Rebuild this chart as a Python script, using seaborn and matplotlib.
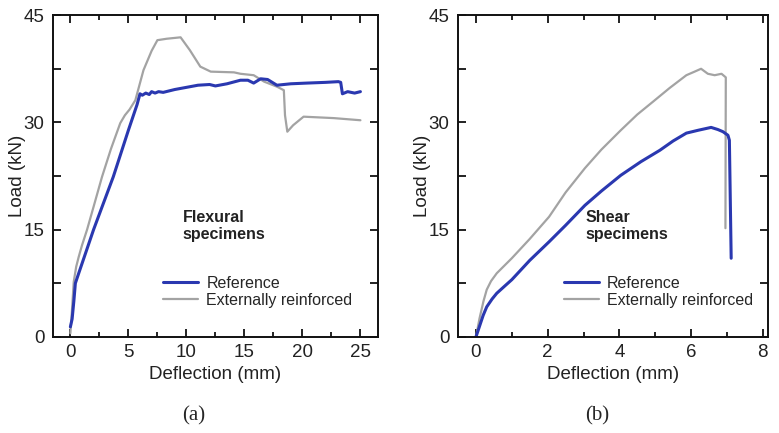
import numpy as np
import pandas as pd
import matplotlib
matplotlib.use("Agg")
import matplotlib.pyplot as plt
import seaborn as sns
from matplotlib.ticker import MultipleLocator, FuncFormatter

sns.set_style("ticks")
plt.rcParams['font.family'] = ['Liberation Sans', 'DejaVu Sans']

# ---- Data: flexural specimens (panel a) ----
flex_ref_x = [0.0, 0.15, 0.3, 0.43, 0.72, 2.0, 3.7, 5.0, 5.75, 6.0, 6.2, 6.5, 6.8, 7.0, 7.3, 7.6, 8.0,
              9.0, 10.0, 11.0, 12.0, 12.5, 13.5, 14.66, 15.3, 15.8, 16.4, 17.0, 17.8, 19.0, 20.4,
              22.0, 23.1, 23.3, 23.45, 23.9, 24.5, 25.0]
flex_ref_y = [1.4, 2.5, 5.0, 7.5, 8.9, 15.0, 22.4, 28.9, 32.5, 34.0, 33.8, 34.1, 33.9, 34.3, 34.1, 34.3, 34.2,
              34.6, 34.9, 35.2, 35.3, 35.1, 35.4, 35.9, 35.9, 35.5, 36.1, 36.0, 35.2, 35.4, 35.5,
              35.6, 35.7, 35.6, 34.0, 34.3, 34.1, 34.3]

flex_ext_x = [0.0, 0.15, 0.29, 0.5, 0.72, 1.0, 1.44, 2.0, 2.73, 3.5, 4.3, 4.7, 5.1, 5.6, 6.3, 7.0, 7.5,
              8.3, 9.5, 10.3, 11.2, 12.1, 14.1, 14.66, 15.8, 16.7, 17.8, 18.4, 18.5, 18.7, 19.2, 20.1,
              22.7, 25.0]
flex_ext_y = [0.5, 4.0, 7.7, 9.8, 11.2, 12.8, 15.0, 18.2, 22.4, 26.3, 29.9, 31.0, 31.8, 33.1, 37.3, 40.0, 41.5,
              41.7, 41.9, 40.1, 37.8, 37.1, 37.0, 36.8, 36.6, 35.7, 35.0, 34.5, 31.0, 28.7, 29.6, 30.8,
              30.6, 30.3]

# ---- Data: shear specimens (panel b) ----
shear_ref_x = [0.0, 0.1, 0.2, 0.3, 0.45, 0.58, 0.8, 1.0, 1.5, 2.04, 2.5, 3.04, 3.5, 4.04, 4.6, 5.13,
               5.5, 5.87, 6.2, 6.56, 6.75, 6.89, 7.03, 7.07, 7.12]
shear_ref_y = [0.0, 1.5, 3.0, 4.2, 5.3, 6.1, 7.1, 8.0, 10.7, 13.3, 15.6, 18.4, 20.4, 22.6, 24.5, 26.1,
               27.4, 28.5, 28.9, 29.3, 29.0, 28.7, 28.2, 27.5, 11.0]

shear_ext_x = [0.0, 0.1, 0.21, 0.3, 0.42, 0.58, 0.8, 1.0, 1.5, 2.04, 2.5, 3.04, 3.5, 4.04, 4.5, 4.94,
               5.4, 5.87, 6.1, 6.28, 6.47, 6.66, 6.85, 6.97, 6.96]
shear_ext_y = [0.0, 2.6, 5.0, 6.6, 7.8, 8.9, 10.0, 11.0, 13.7, 16.8, 20.2, 23.6, 26.2, 28.9, 31.1, 32.9,
               34.8, 36.6, 37.1, 37.5, 36.8, 36.6, 36.8, 36.3, 15.2]

series_names = ["Reference", "Externally reinforced"]
colors = {"Reference": "#2A38B0", "Externally reinforced": "#A3A3A3"}
widths = {"Reference": 2.2, "Externally reinforced": 1.6}

fig = plt.figure(figsize=(7.79, 4.33), dpi=100)
axA = fig.add_axes([0.068, 0.222, 0.417, 0.743])
axB = fig.add_axes([0.588, 0.222, 0.398, 0.743])

def draw(ax, rx, ry, ex, ey):
    for name, x, y in [("Externally reinforced", ex, ey), ("Reference", rx, ry)]:
        df = pd.DataFrame({"x": x, "y": y})
        sns.lineplot(data=df, x="x", y="y", ax=ax, sort=False, estimator=None,
                     color=colors[name], lw=widths[name], label=name)

draw(axA, flex_ref_x, flex_ref_y, flex_ext_x, flex_ext_y)
draw(axB, shear_ref_x, shear_ref_y, shear_ext_x, shear_ext_y)

axA.set_xlim(-1.5, 26.5)
axB.set_xlim(-0.5, 8.15)
axA.xaxis.set_major_locator(MultipleLocator(5))
axA.xaxis.set_minor_locator(MultipleLocator(2.5))
axB.xaxis.set_major_locator(MultipleLocator(2))
axB.xaxis.set_minor_locator(MultipleLocator(1))

yfmt = FuncFormatter(lambda v, p: f"{int(round(v))}" if abs(v / 15 - round(v / 15)) < 1e-6 else "")
for ax in (axA, axB):
    ax.set_ylim(0, 45)
    ax.yaxis.set_major_locator(MultipleLocator(7.5))
    ax.yaxis.set_major_formatter(yfmt)
    ax.tick_params(which="both", direction="in", top=True, right=True, labelsize=13.5, width=1.3, colors="#111111")
    ax.tick_params(which="major", length=6)
    ax.tick_params(which="minor", length=3.5)
    ax.tick_params(axis="y", labelcolor="#222222", pad=6)
    ax.tick_params(axis="x", labelcolor="#222222", pad=5)
    for s in ax.spines.values():
        s.set_linewidth(1.4)
        s.set_color("#111111")
    ax.set_xlabel("Deflection (mm)", fontsize=13.5, labelpad=4, color="#222222")
    ax.set_ylabel("Load (kN)", fontsize=13.5, labelpad=-1.5, color="#222222")
    ax.get_legend().remove()

# annotations
axA.text(0.40, 0.345, "Flexural\nspecimens", transform=axA.transAxes, fontsize=11.5,
         fontweight="bold", color="#222222", va="center", ha="left", linespacing=1.2)
axB.text(0.41, 0.345, "Shear\nspecimens", transform=axB.transAxes, fontsize=11.5,
         fontweight="bold", color="#222222", va="center", ha="left", linespacing=1.2)

for ax, loc in [(axA, (0.32, 0.07)), (axB, (0.32, 0.07))]:
    h, l = ax.get_legend_handles_labels()
    order = [l.index("Reference"), l.index("Externally reinforced")]
    ax.legend([h[i] for i in order], [l[i] for i in order], loc="lower left",
              bbox_to_anchor=loc, frameon=False, fontsize=11.5, handlelength=2.2,
              handletextpad=0.5, labelspacing=0.15, borderaxespad=0)

fig.text(0.248, 0.04, "(a)", fontsize=15, family="Liberation Serif", ha="center", va="center")
fig.text(0.766, 0.04, "(b)", fontsize=15, family="Liberation Serif", ha="center", va="center")

fig.savefig("out.png", dpi=100)
